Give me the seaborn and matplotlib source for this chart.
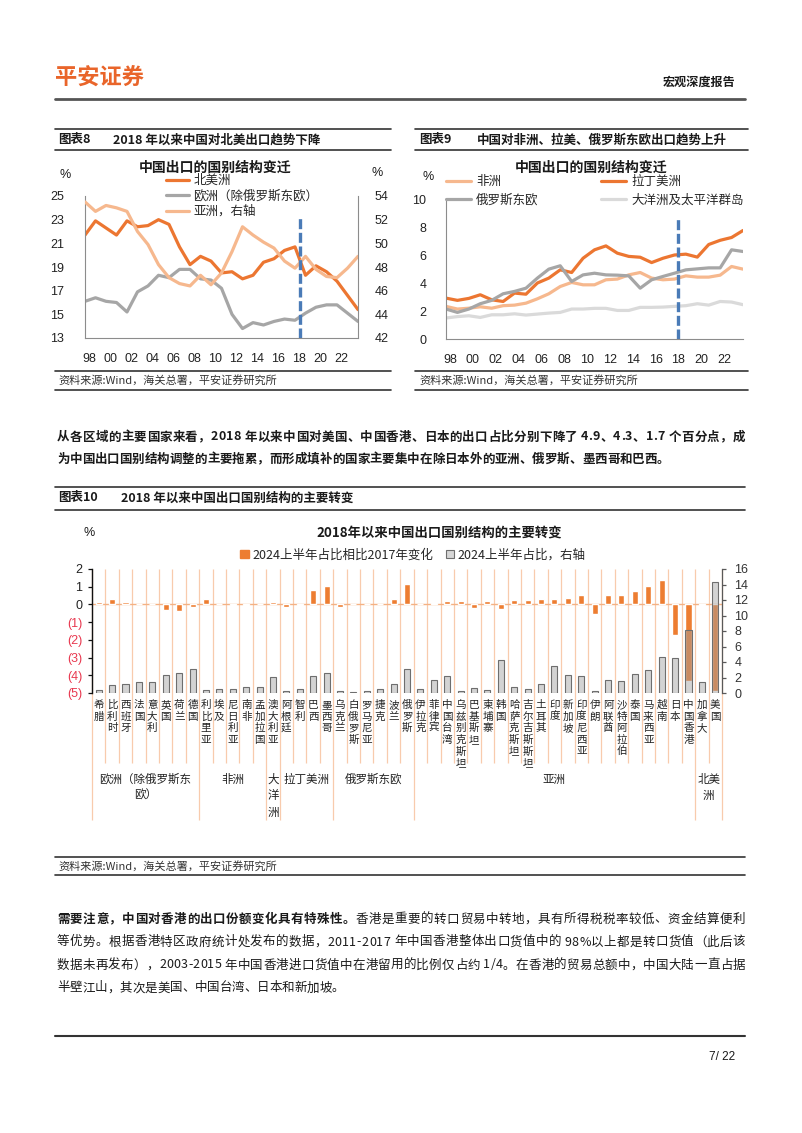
import numpy as np
import pandas as pd
import matplotlib
matplotlib.use("Agg")
import matplotlib.pyplot as plt
import seaborn as sns
from matplotlib.lines import Line2D
from matplotlib.patches import Patch
from matplotlib.font_manager import FontProperties
import matplotlib.transforms as mtrans

# ---------------- data ----------------
years = np.arange(1998, 2025)  # last point = 2024H1
na_share = [21.7, 22.9, 22.3, 21.7, 22.9, 22.4, 22.5, 23.0, 22.6, 20.7, 19.2, 19.9, 19.5, 18.5,
            18.6, 18.0, 18.3, 19.4, 19.7, 20.4, 20.7, 18.3, 19.1, 18.6, 17.8, 16.6, 15.4]
eu_share = [16.1, 16.4, 16.1, 16.0, 15.2, 16.9, 17.4, 18.3, 18.1, 18.8, 18.8, 18.0, 17.9, 17.2,
            15.0, 13.8, 14.3, 14.1, 14.4, 14.6, 14.5, 15.1, 15.6, 15.8, 15.8, 15.1, 14.4]
asia_share = [53.5, 52.7, 53.2, 53.0, 52.7, 51.0, 49.9, 48.2, 47.1, 46.6, 46.4, 47.3, 46.5, 47.5,
              49.3, 51.4, 50.7, 50.1, 49.6, 48.5, 47.9, 48.9, 47.8, 47.2, 47.1, 47.9, 48.9]

africa_share = [2.33, 2.14, 2.2, 2.3, 2.2, 2.38, 2.42, 2.56, 2.87, 3.23, 3.75, 4.04, 3.87, 3.87,
                4.23, 4.28, 4.58, 4.75, 4.35, 4.23, 4.28, 4.51, 4.42, 4.42, 4.56, 5.18, 4.99]
latam_share = [2.92, 2.76, 2.9, 3.16, 2.8, 2.68, 3.28, 3.2, 4.0, 4.35, 4.94, 4.75, 5.77, 6.37,
               6.65, 6.13, 5.9, 5.84, 5.46, 5.77, 6.0, 6.06, 5.85, 6.75, 7.05, 7.25, 7.75]
russia_share = [2.14, 1.9, 2.14, 2.52, 2.76, 3.23, 3.4, 3.63, 4.35, 4.99, 5.23, 4.11, 4.58, 4.7,
                4.58, 4.56, 4.51, 3.63, 4.23, 4.47, 4.7, 4.94, 5.01, 5.08, 5.08, 6.37, 6.25]
oceania_share = [1.5, 1.6, 1.66, 1.54, 1.73, 1.73, 1.8, 1.71, 1.78, 1.85, 1.9, 2.14, 2.14, 2.19,
                 2.19, 2.04, 2.04, 2.26, 2.26, 2.28, 2.33, 2.38, 2.52, 2.42, 2.68, 2.64, 2.45]

countries = ["希腊", "比利时", "西班牙", "法国", "意大利", "英国", "荷兰", "德国",
             "利比里亚", "埃及", "尼日利亚", "南非", "孟加拉国",
             "澳大利亚",
             "阿根廷", "智利", "巴西", "墨西哥",
             "乌克兰", "白俄罗斯", "罗马尼亚", "捷克", "波兰", "俄罗斯",
             "伊拉克", "菲律宾", "中国台湾", "乌兹别克斯坦", "巴基斯坦", "柬埔寨", "韩国",
             "哈萨克斯坦", "吉尔吉斯斯坦", "土耳其", "印度", "新加坡", "印度尼西亚", "伊朗",
             "阿联酋", "沙特阿拉伯", "泰国", "马来西亚", "越南", "日本", "中国香港",
             "加拿大", "美国"]
change_vs_2017 = [0.15, 0.28, 0.15, 0.02, 0.02, -0.34, -0.38, -0.12,
                  0.28, 0.02, -0.03, -0.03, 0.0,
                  0.15,
                  -0.15, -0.03, 0.8, 1.02,
                  -0.12, 0.05, 0.05, 0.05, 0.32, 1.13,
                  0.05, 0.06, 0.17, 0.22, -0.19, 0.2, -0.26, 0.26, 0.26, 0.32, 0.32, 0.38,
                  0.56, -0.56, 0.56, 0.56, 0.73, 1.02, 1.4, -1.7, -4.3,
                  -0.03, -4.9]
share_2024h1 = [0.43, 1.0, 1.2, 1.38, 1.38, 2.28, 2.62, 3.1,
                0.43, 0.56, 0.56, 0.73, 0.73,
                2.06,
                0.3, 0.56, 2.15, 2.62,
                0.2, 0.17, 0.3, 0.56, 1.2, 3.1,
                0.56, 1.63, 2.15, 0.26, 0.65, 0.43, 4.3, 0.77, 0.56, 1.2, 3.44, 2.37,
                2.15, 0.3, 1.72, 1.5, 2.5, 2.92, 4.65, 4.47, 8.1,
                1.38, 14.3]
group_lines = [["欧洲（除俄罗斯东", "欧）"], ["非洲"], ["大", "洋", "洲"], ["拉丁美洲"],
               ["俄罗斯东欧"], ["亚洲"], ["北美", "洲"]]
group_sizes = [8, 5, 1, 4, 6, 21, 2]

xtick_years = list(range(1998, 2023, 2))
xtick_labels = [f"{y % 100:02d}" for y in xtick_years]

# ---------------- style ----------------
sns.set_theme(style="white")
CJK = ["Noto Sans CJK SC", "DejaVu Sans"]
NUM = ["Liberation Sans", "Noto Sans CJK SC"]
plt.rcParams["font.family"] = CJK
plt.rcParams["axes.unicode_minus"] = False

ORANGE = "#EC7631"
PEACH = "#F6B88E"
GRAY = "#A6A6A6"
LGRAY = "#DADADA"
BLUE = "#4A7BB7"
BAR_OR = "#ED7D31"
RED = "#E8384F"
GRID = "#F8CBAD"
TXT = "#1a1a1a"

W, H = 802, 1133
fig = plt.figure(figsize=(W / 100, H / 100), dpi=100)
fig.patch.set_facecolor("white")


def fx(x):
    return x / W


def fy(y):
    return 1 - y / H


def rect(l, t, r, b):
    return [fx(l), fy(b), (r - l) / W, (b - t) / H]


def hline(x0, x1, y, lw=1.2, color="#333333"):
    fig.add_artist(Line2D([fx(x0), fx(x1)], [fy(y), fy(y)], lw=lw, color=color))


def txt(x, y, s, **kw):
    kw.setdefault("va", "center")
    kw.setdefault("color", TXT)
    return fig.text(fx(x), fy(y), s, **kw)


renderer = fig.canvas.get_renderer()


def adv(ch, size, weight):
    fp = FontProperties(family=CJK, size=size, weight=weight)
    w1, _, _ = renderer.get_text_width_height_descent("|" + ch + "|", fp, ismath=False)
    w0, _, _ = renderer.get_text_width_height_descent("||", fp, ismath=False)
    return w1 - w0


def para_line(y, segments, x0=57, x1=745, justify=True, size=9):
    chars = []
    for s, wt in segments:
        for ch in s:
            chars.append((ch, wt, adv(ch, size, wt)))
    total = sum(c[2] for c in chars)
    n = len(chars)
    gap = (x1 - x0 - total) / (n - 1) if (justify and n > 1) else 0.0
    x = x0
    for ch, wt, w in chars:
        if ch != " ":
            fig.text(fx(x), fy(y), ch, fontsize=size, fontweight=wt, family=CJK,
                     va="center", ha="left", color=TXT)
        x += w + gap


# ---------------- page header ----------------
txt(55, 78, "平安证券", fontsize=16, fontweight="bold", color="#E9652A", ha="left")
txt(735, 82, "宏观深度报告", fontsize=8.7, fontweight="bold", ha="right")
hline(55, 745, 99, lw=2, color="#555555")

# title bars for chart 8 / 9
for (x0, x1) in [(55, 391), (415, 748)]:
    hline(x0, x1, 129)
    hline(x0, x1, 150)
    hline(x0, x1, 371)
    hline(x0, x1, 390)
txt(58, 140, "图表8", fontsize=9, fontweight="bold", ha="left")
txt(113, 140, "2018 年以来中国对北美出口趋势下降", fontsize=9, fontweight="bold", ha="left")
txt(419, 140, "图表9", fontsize=9, fontweight="bold", ha="left")
txt(477, 140, "中国对非洲、拉美、俄罗斯东欧出口趋势上升", fontsize=9, fontweight="bold", ha="left")
txt(58, 380, "资料来源:Wind，海关总署，平安证券研究所", fontsize=8, ha="left", color="#333333")
txt(419, 380, "资料来源:Wind，海关总署，平安证券研究所", fontsize=8, ha="left", color="#333333")

# ---------------- chart 8 ----------------
ax8 = fig.add_axes(rect(85, 196, 358, 338))
df8 = pd.DataFrame({"year": years, "北美洲": na_share, "欧洲（除俄罗斯东欧）": eu_share})
long8 = df8.melt("year", var_name="region", value_name="share")
sns.lineplot(data=long8, x="year", y="share", hue="region",
             hue_order=["北美洲", "欧洲（除俄罗斯东欧）"],
             palette={"北美洲": ORANGE, "欧洲（除俄罗斯东欧）": GRAY},
             linewidth=2.3, legend=False, errorbar=None, ax=ax8)
ax8.set_xlim(1998, 2024)
ax8.set_ylim(13, 25)
ax8.set_yticks(np.arange(13, 26, 2))
ax8.set_xticks(np.array(xtick_years) + 0.4)
ax8.set_xticklabels(xtick_labels)
ax8.set_xlabel("")
ax8.set_ylabel("")
ax8b = ax8.twinx()
sns.lineplot(x=years, y=asia_share, color=PEACH, linewidth=2.3, errorbar=None, ax=ax8b)
ax8b.set_ylim(42, 54)
ax8b.set_yticks(np.arange(42, 55, 2))
ax8b.set_ylabel("")
ax8b.axvline(2018.45, ymin=0, ymax=0.85, color=BLUE, lw=2.4, dashes=(3, 1.1))
for a in (ax8, ax8b):
    for s in a.spines.values():
        s.set_color("#8C8C8C")
        s.set_linewidth(0.8)
    a.spines["top"].set_visible(False)
    a.set_facecolor("none")
ax8.spines["right"].set_visible(False)
ax8b.spines["left"].set_visible(False)
ax8b.spines["bottom"].set_visible(False)
ax8.tick_params(axis="y", left=False, pad=9, labelsize=9, labelcolor="#222222", labelfontfamily="Liberation Sans")
ax8.tick_params(axis="x", bottom=False, pad=5, labelsize=9, labelcolor="#222222", labelfontfamily="Liberation Sans")
ax8b.tick_params(axis="y", right=False, pad=6, labelsize=9, labelcolor="#222222", labelfontfamily="Liberation Sans")
txt(65, 175, "%", fontsize=9, ha="center", family=NUM)
txt(377, 173, "%", fontsize=9, ha="center", family=NUM)
txt(215, 168, "中国出口的国别结构变迁", fontsize=10, fontweight="bold", ha="center")
h8 = [Line2D([], [], color=ORANGE, lw=2.3), Line2D([], [], color=GRAY, lw=2.3),
      Line2D([], [], color=PEACH, lw=2.3)]
fig.legend(h8, ["北美洲", "欧洲（除俄罗斯东欧）", "亚洲，右轴"], loc="upper left",
           bbox_to_anchor=(fx(166), fy(174)), bbox_transform=fig.transFigure,
           frameon=False, fontsize=9, handlelength=1.8, handletextpad=0.4,
           labelspacing=0.2, borderpad=0, borderaxespad=0)

# ---------------- chart 9 ----------------
ax9 = fig.add_axes(rect(446, 199, 743, 339))
df9 = pd.DataFrame({"year": years, "非洲": africa_share, "拉丁美洲": latam_share,
                    "俄罗斯东欧": russia_share, "大洋洲及太平洋群岛": oceania_share})
long9 = df9.melt("year", var_name="region", value_name="share")
order9 = ["非洲", "拉丁美洲", "俄罗斯东欧", "大洋洲及太平洋群岛"]
pal9 = {"非洲": PEACH, "拉丁美洲": ORANGE, "俄罗斯东欧": GRAY, "大洋洲及太平洋群岛": LGRAY}
sns.lineplot(data=long9, x="year", y="share", hue="region", hue_order=order9, palette=pal9,
             linewidth=2.3, legend=False, errorbar=None, ax=ax9)
ax9.axvline(2018.35, ymin=0, ymax=0.87, color=BLUE, lw=2.4, dashes=(3, 1.1))
ax9.set_xlim(1998, 2024)
ax9.set_ylim(0, 10)
ax9.set_yticks(np.arange(0, 11, 2))
ax9.set_xticks(np.array(xtick_years) + 0.35)
ax9.set_xticklabels(xtick_labels)
ax9.set_xlabel("")
ax9.set_ylabel("")
for s in ax9.spines.values():
    s.set_color("#8C8C8C")
    s.set_linewidth(0.8)
ax9.spines["top"].set_visible(False)
ax9.spines["right"].set_visible(False)
ax9.set_facecolor("none")
ax9.tick_params(axis="y", left=False, pad=8, labelsize=9, labelcolor="#222222", labelfontfamily="Liberation Sans")
ax9.tick_params(axis="x", bottom=False, pad=5, labelsize=9, labelcolor="#222222", labelfontfamily="Liberation Sans")
txt(428, 177, "%", fontsize=9, ha="center", family=NUM)
txt(591, 168, "中国出口的国别结构变迁", fontsize=10, fontweight="bold", ha="center")
l9a = fig.legend([Line2D([], [], color=PEACH, lw=2.3), Line2D([], [], color=GRAY, lw=2.3)],
                 ["非洲", "俄罗斯东欧"], loc="upper left",
                 bbox_to_anchor=(fx(446), fy(175)), bbox_transform=fig.transFigure,
                 frameon=False, fontsize=9, handlelength=2.0, handletextpad=0.4,
                 labelspacing=0.45, borderpad=0, borderaxespad=0)
fig.legend([Line2D([], [], color=ORANGE, lw=2.3), Line2D([], [], color=LGRAY, lw=2.3)],
           ["拉丁美洲", "大洋洲及太平洋群岛"], loc="upper left",
           bbox_to_anchor=(fx(601), fy(175)), bbox_transform=fig.transFigure,
           frameon=False, fontsize=9, handlelength=2.0, handletextpad=0.4,
           labelspacing=0.45, borderpad=0, borderaxespad=0)

# ---------------- paragraph 1 ----------------
para_line(437, [("从各区域的主要国家来看，2018 年以来中国对美国、中国香港、日本的出口占比分别下降了 4.9、4.3、1.7 个百分点，成", "bold")])
para_line(459, [("为中国出口国别结构调整的主要拖累，而形成填补的国家主要集中在除日本外的亚洲、俄罗斯、墨西哥和巴西。", "bold")], justify=False)

# ---------------- chart 10 ----------------
hline(55, 745, 487)
hline(55, 745, 510)
txt(58, 498, "图表10", fontsize=9, fontweight="bold", ha="left")
txt(121, 498, "2018 年以来中国出口国别结构的主要转变", fontsize=9, fontweight="bold", ha="left")

ax10 = fig.add_axes(rect(92, 569, 722, 693))
sns.barplot(x=countries, y=change_vs_2017, color=BAR_OR, width=0.45, saturation=1, ax=ax10)
ax10.axhline(0, color="#F4B183", lw=1.0, zorder=0.5)
ax10.set_ylim(-5, 2)
ax10.set_xlim(-0.5, len(countries) - 0.5)
ax10.set_yticks(np.arange(-5, 3, 1))
ax10.set_yticklabels(["(5)", "(4)", "(3)", "(2)", "(1)", "0", "1", "2"])
for lbl, v in zip(ax10.get_yticklabels(), np.arange(-5, 3, 1)):
    lbl.set_color(RED if v < 0 else "#222222")
# category separators (extend into label area)
bounds = np.arange(len(countries) + 1) - 0.5
group_edges = np.cumsum([0] + group_sizes)
low = np.where(np.isin(np.arange(len(countries) + 1), group_edges), -1.024, -0.565)
ax10.vlines(bounds, low, 1.0, colors=GRID, lw=0.9, transform=ax10.get_xaxis_transform(),
            clip_on=False, zorder=0.4)

ax10b = ax10.twinx()
sns.barplot(x=countries, y=share_2024h1, color="#9E9E9E", width=0.45, saturation=1, ax=ax10b)
for p in ax10b.patches:
    p.set_facecolor((0.62, 0.62, 0.62, 0.45))
    p.set_edgecolor("#6E6E6E")
    p.set_linewidth(0.8)
ax10b.set_ylim(0, 16)
ax10b.set_yticks(np.arange(0, 17, 2))
for a in (ax10, ax10b):
    a.set_xlabel("")
    a.set_ylabel("")
    a.set_facecolor("none")
    a.tick_params(axis="x", bottom=False, labelbottom=False)
    a.spines["top"].set_visible(False)
    a.spines["bottom"].set_visible(False)
ax10.spines["right"].set_visible(False)
ax10.spines["left"].set_color("#111111")
ax10.spines["left"].set_linewidth(1.0)
ax10b.spines["left"].set_visible(False)
ax10b.spines["right"].set_color("#595959")
ax10b.spines["right"].set_linewidth(0.9)
ax10.tick_params(axis="y", left=True, direction="out", length=3, width=0.9, color="#111111",
                 pad=4, labelsize=9, labelfontfamily="Liberation Sans")
ax10b.tick_params(axis="y", right=True, direction="out", length=3, width=0.9, color="#595959",
                  pad=6, labelsize=9, labelcolor="#333333", labelfontfamily="Liberation Sans")

# vertical category labels
btr = mtrans.blended_transform_factory(ax10.transData, fig.transFigure)
for i, name in enumerate(countries):
    for j, ch in enumerate(name):
        ax10.text(i, fy(705 + j * 11.6), ch, transform=btr, ha="center", va="center",
                  fontsize=7.6, color="#222222", clip_on=False)
# group labels
starts = group_edges[:-1]
for lines, st, sz in zip(group_lines, starts, group_sizes):
    cx = st + (sz - 1) / 2
    for k, ln in enumerate(lines):
        ax10.text(cx, fy(779 + k * 16.6), ln, transform=btr, ha="center", va="center",
                  fontsize=8.3, color="#222222", clip_on=False)

txt(89, 533, "%", fontsize=9, ha="center", family=NUM)
txt(439, 533, "2018年以来中国出口国别结构的主要转变", fontsize=9.6, fontweight="bold", ha="center")
fig.legend([Patch(facecolor=BAR_OR, edgecolor=BAR_OR),
            Patch(facecolor="#D6D6D6", edgecolor="#6E6E6E", linewidth=0.8)],
           ["2024上半年占比相比2017年变化", "2024上半年占比，右轴"], loc="center",
           bbox_to_anchor=(fx(413), fy(555)), bbox_transform=fig.transFigure, ncol=2,
           frameon=False, fontsize=9, handlelength=0.65, handleheight=0.65,
           handletextpad=0.3, columnspacing=1.0, borderpad=0, borderaxespad=0)

hline(55, 745, 857)
hline(55, 745, 875)
txt(58, 866, "资料来源:Wind，海关总署，平安证券研究所", fontsize=8, ha="left", color="#333333")

# ---------------- paragraph 2 ----------------
para_line(919, [("需要注意，中国对香港的出口份额变化具有特殊性。", "bold"),
                ("香港是重要的转口贸易中转地，具有所得税税率较低、资金结算便利", "normal")])
para_line(942, [("等优势。根据香港特区政府统计处发布的数据，2011-2017 年中国香港整体出口货值中的 98%以上都是转口货值（此后该", "normal")])
para_line(965, [("数据未再发布），2003-2015 年中国香港进口货值中在港留用的比例仅占约 1/4。在香港的贸易总额中，中国大陆一直占据", "normal")])
para_line(988, [("半壁江山，其次是美国、中国台湾、日本和新加坡。", "normal")], justify=False)

# ---------------- footer ----------------
hline(55, 745, 1036, lw=1.5, color="#333333")
txt(735, 1057, "7/ 22", fontsize=8.5, ha="right", family=NUM)

fig.savefig("out.png", dpi=100, facecolor="white")
